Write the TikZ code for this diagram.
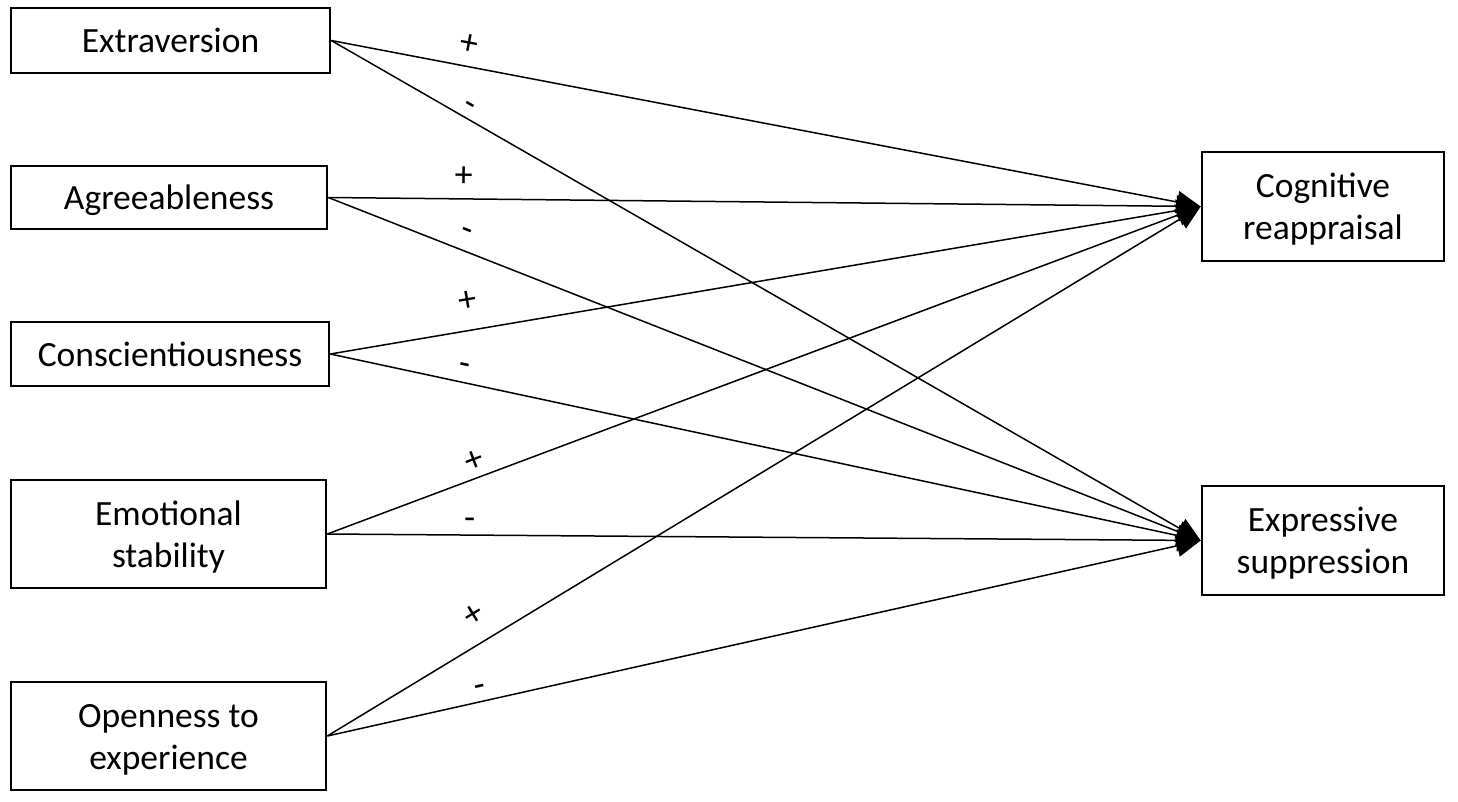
\documentclass[tikz,border=0pt]{standalone}
\usepackage{fontspec}
\setmainfont{Carlito}
\usetikzlibrary{arrows.meta}
\newcommand\twol[2]{\parbox[t]{230pt}{\centering #1\\#2}}
\begin{document}
\begin{tikzpicture}[x=1pt,y=-1pt,
  box/.style={draw, line width=2.6pt, inner sep=0pt, align=center,
    font=\fontsize{35.5}{42}\selectfont, text height=24.5pt, text depth=0pt},
  box2/.style={box, text height=10pt, text depth=28pt},
  link/.style={line width=1.5pt, -{Triangle[length=24pt,width=22pt]}},
  sgn/.style={font=\fontsize{36}{36}\selectfont, inner sep=0pt, sloped, text height=, text depth=}]
\useasboundingbox (0,0) rectangle (1458,801);
\fill[white] (0,0) rectangle (1458,801);
% predictor boxes
\node[box, minimum width=319pt, minimum height=65pt] (ex) at (170.5,40.5) {Extraversion};
\node[box, minimum width=316pt, minimum height=63pt] (ag) at (169,197.5) {Agreeableness};
\node[box, minimum width=318pt, minimum height=64pt] (co) at (170,354) {Conscientiousness};
\node[box2, minimum width=315pt, minimum height=108pt] (em) at (168.5,534) {\twol{Emotional}{stability}};
\node[box2, minimum width=315pt, minimum height=108pt] (op) at (168.5,736) {\twol{Openness to}{experience}};
% outcome boxes
\node[box2, minimum width=242pt, minimum height=109pt] (cr) at (1323,206.5) {\twol{Cognitive}{reappraisal}};
\node[box2, minimum width=242pt, minimum height=109pt] (es) at (1323,540.5) {\twol{Expressive}{suppression}};
% connectors
\draw[link] (ex.east) -- node[sgn, pos=0.154, yshift=21.7pt] (l1) {+} (cr.west);
\draw[link] (ex.east) -- node[sgn, pos=0.152, yshift=9.9pt] (l2) {-} (es.west);
\draw[link] (ag.east) -- node[sgn, pos=0.155, yshift=22pt] (l3) {+} (cr.west);
\draw[link] (ag.east) -- node[sgn, pos=0.151, yshift=16pt] (l4) {-} (es.west);
\draw[link] (co.east) -- node[sgn, pos=0.163, yshift=29.5pt] (l5) {+} (cr.west);
\draw[link] (co.east) -- node[sgn, pos=0.150, yshift=13.4pt] (l6) {-} (es.west);
\draw[link] (em.east) -- node[sgn, pos=0.175, yshift=17pt] (l7) {+} (cr.west);
\draw[link] (em.east) -- node[sgn, pos=0.163, yshift=11.1pt] (l8) {-} (es.west);
\draw[link] (op.east) -- node[sgn, pos=0.184, yshift=27.6pt] (l9) {+} (cr.west);
\draw[link] (op.east) -- node[sgn, pos=0.178, yshift=10.5pt] (l10) {-} (es.west);
\end{tikzpicture}
\end{document}
